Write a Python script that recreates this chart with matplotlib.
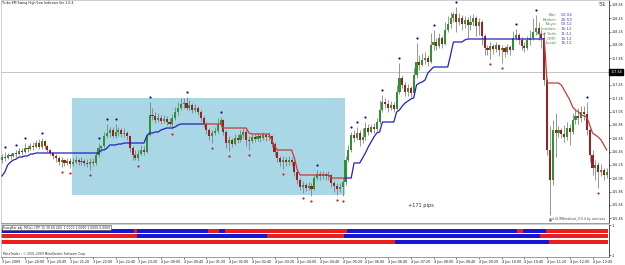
import numpy as np
import matplotlib
matplotlib.use('Agg')
import matplotlib.pyplot as plt
from matplotlib.patches import Rectangle

W, H = 625, 265

# ---- M5 bars, 3 Jun 19:20 onwards ----
first_open = 156.325
close = [
    156.37, 156.355, 156.4, 156.385, 156.43, 156.415, 156.46, 156.445, 156.505, 156.49,
    156.535, 156.52, 156.58, 156.52, 156.61, 156.535, 156.475, 156.43, 156.385, 156.355,
    156.295, 156.325, 156.28, 156.31, 156.265, 156.295, 156.325, 156.295, 156.31, 156.28,
    156.265, 156.295, 156.28, 156.4, 156.505, 156.535, 156.685, 156.73, 156.775, 156.685,
    156.745, 156.775, 156.715, 156.73, 156.685, 156.505, 156.4, 156.355, 156.415, 156.475,
    156.445, 156.7, 157.0, 156.985, 156.925, 156.955, 156.91, 156.94, 156.895, 156.865,
    156.955, 157.045, 157.105, 157.165, 157.18, 157.105, 157.15, 157.075, 157.105, 157.045,
    156.955, 156.865, 156.775, 156.685, 156.73, 156.76, 156.865, 156.925, 156.745, 156.58,
    156.625, 156.565, 156.655, 156.625, 156.7, 156.745, 156.625, 156.61, 156.67, 156.64,
    156.685, 156.655, 156.7, 156.67, 156.685, 156.565, 156.445, 156.355, 156.295, 156.325,
    156.295, 156.325, 156.295, 156.145, 156.025, 155.92, 155.95, 155.905, 155.935, 155.89,
    156.055, 156.115, 156.085, 156.115, 156.085, 156.1, 155.98, 155.935, 155.89, 155.92,
    155.995, 156.325, 156.475, 156.7, 156.655, 156.73, 156.625, 156.67, 156.805, 156.745,
    156.82, 156.79, 156.895, 157.075, 157.195, 157.165, 157.105, 157.15, 157.09, 157.345,
    157.555, 157.45, 157.345, 157.405, 157.33, 157.6, 157.795, 157.75, 157.825, 157.855,
    157.795, 158.05, 158.095, 158.035, 158.155, 158.065, 158.275, 158.365, 158.455, 158.515,
    158.395, 158.455, 158.365, 158.425, 158.35, 158.395, 158.455, 158.335, 158.395, 158.185,
    158.005, 157.975, 158.035, 157.99, 158.05, 157.975, 158.005, 157.945, 158.02, 157.975,
    158.155, 158.2, 158.125, 158.035, 158.005, 158.125, 158.155, 158.245, 158.305, 158.215,
    158.155, 157.525, 156.475, 156.025, 156.775, 156.73, 156.775, 156.715, 156.67, 156.805,
    156.745, 156.925, 156.985, 156.955, 157.045, 157.015, 156.775, 156.4, 156.205, 156.25,
    156.145, 156.175, 156.1, 156.145,
]
high = [
    156.415, 156.445, 156.43, 156.43, 156.43, 156.475, 156.505, 156.505, 156.58, 156.55,
    156.58, 156.595, 156.625, 156.64, 156.655, 156.625, 156.55, 156.49, 156.445, 156.415,
    156.385, 156.37, 156.34, 156.355, 156.355, 156.355, 156.385, 156.355, 156.37, 156.34,
    156.34, 156.355, 156.355, 156.445, 156.58, 156.55, 156.745, 156.865, 156.82, 156.82,
    156.865, 156.82, 156.805, 156.805, 156.76, 156.7, 156.535, 156.475, 156.475, 156.55,
    156.535, 156.73, 157.195, 157.105, 157.045, 157.03, 157.0, 157.0, 156.985, 156.955,
    157.015, 157.12, 157.195, 157.255, 157.255, 157.27, 157.225, 157.18, 157.165, 157.135,
    157.075, 156.985, 156.895, 156.805, 156.775, 156.82, 156.955, 156.97, 156.94, 156.775,
    156.685, 156.655, 156.715, 156.715, 156.775, 156.805, 156.775, 156.685, 156.715, 156.715,
    156.73, 156.73, 156.745, 156.73, 156.745, 156.7, 156.595, 156.475, 156.385, 156.385,
    156.37, 156.385, 156.37, 156.325, 156.175, 156.055, 156.01, 155.98, 155.995, 155.98,
    156.1, 156.175, 156.16, 156.16, 156.145, 156.16, 156.115, 156.01, 155.98, 155.98,
    156.055, 156.385, 156.55, 156.745, 156.775, 156.82, 156.775, 156.805, 156.895, 156.865,
    156.865, 156.88, 156.955, 157.225, 157.3, 157.255, 157.225, 157.21, 157.195, 157.45,
    157.78, 157.6, 157.495, 157.465, 157.435, 157.705, 158.08, 157.9, 157.93, 157.945,
    157.9, 158.23, 158.275, 158.155, 158.23, 158.185, 158.395, 158.485, 158.545, 158.545,
    158.62, 158.53, 158.5, 158.485, 158.47, 158.5, 158.515, 158.485, 158.455, 158.425,
    158.215, 158.05, 158.095, 158.065, 158.095, 158.065, 158.05, 158.035, 158.065, 158.05,
    158.26, 158.29, 158.23, 158.17, 158.095, 158.185, 158.275, 158.455, 158.5, 158.395,
    158.275, 158.245, 157.555, 156.835, 156.925, 157.03, 156.835, 156.805, 156.85, 156.895,
    156.865, 157.03, 157.075, 157.105, 157.135, 157.135, 157.195, 156.805, 156.475, 156.325,
    156.295, 156.265, 156.205, 156.205,
]
low = [
    156.28, 156.31, 156.34, 156.34, 156.37, 156.37, 156.4, 156.4, 156.43, 156.445,
    156.475, 156.475, 156.505, 156.49, 156.49, 156.49, 156.445, 156.4, 156.34, 156.295,
    156.25, 156.22, 156.235, 156.25, 156.205, 156.235, 156.265, 156.25, 156.25, 156.235,
    156.22, 156.175, 156.235, 156.25, 156.37, 156.445, 156.505, 156.655, 156.67, 156.655,
    156.655, 156.685, 156.67, 156.67, 156.625, 156.445, 156.325, 156.325, 156.31, 156.4,
    156.4, 156.43, 156.685, 156.925, 156.88, 156.895, 156.865, 156.88, 156.85, 156.835,
    156.79, 156.925, 157.0, 157.075, 157.105, 157.075, 157.075, 157.03, 157.045, 157.0,
    156.91, 156.82, 156.715, 156.625, 156.58, 156.7, 156.73, 156.82, 156.7, 156.505,
    156.46, 156.52, 156.55, 156.58, 156.595, 156.655, 156.535, 156.475, 156.58, 156.595,
    156.61, 156.595, 156.625, 156.61, 156.625, 156.52, 156.385, 156.295, 156.235, 156.19,
    156.235, 156.25, 156.235, 156.085, 155.965, 155.875, 155.83, 155.86, 155.875, 155.785,
    155.875, 156.025, 156.025, 156.04, 156.025, 156.025, 155.92, 155.845, 155.8, 155.845,
    155.785, 155.95, 156.295, 156.445, 156.595, 156.625, 156.535, 156.58, 156.625, 156.7,
    156.73, 156.73, 156.76, 156.865, 157.045, 157.105, 157.045, 157.075, 157.045, 157.075,
    157.315, 157.405, 157.285, 157.285, 157.27, 157.3, 157.555, 157.675, 157.735, 157.765,
    157.735, 157.78, 157.975, 157.975, 158.005, 158.005, 158.05, 158.245, 158.305, 158.395,
    158.245, 158.35, 158.275, 158.305, 158.155, 158.275, 158.335, 158.185, 158.2, 158.05,
    157.9, 157.9, 157.84, 157.915, 157.945, 157.885, 157.78, 157.87, 157.915, 157.9,
    157.975, 158.125, 158.065, 157.975, 157.945, 157.975, 158.05, 158.125, 158.2, 158.125,
    158.005, 157.45, 156.4, 155.5, 155.95, 156.37, 156.67, 156.655, 156.595, 156.625,
    156.55, 156.715, 156.865, 156.865, 156.895, 156.925, 156.7, 156.295, 156.1, 156.025,
    155.905, 156.085, 156.025, 156.055,
]

# swing high / swing low markers (bar index)
swing_hi = [1, 5, 8, 14, 34, 37, 40, 52, 65, 77, 111, 123, 125, 128, 134, 140, 146,
            152, 160, 181, 188, 206]
swing_lo = [21, 24, 31, 48, 60, 74, 80, 87, 99, 106, 109, 118, 120, 172, 176, 193, 210]

# trailing swing line and its colour segments
stop = ([156.085, 156.145, 156.25, 156.295, 156.325, 156.34, 156.37, 156.37,
         156.385, 156.385, 156.415, 156.415] + [156.43] * 23 +
        [156.475, 156.475, 156.505, 156.55, 156.55, 156.55, 156.565, 156.565] +
        [156.58] * 8 +
        [156.685, 156.73, 156.73, 156.745, 156.745, 156.775, 156.79, 156.805,
         156.805, 156.805, 156.82, 156.85] + [156.865] * 15 + [156.805] * 9 +
        [156.73] + [156.715] * 7 + [156.625, 156.535] + [156.475] * 6 +
        [156.355, 156.175] + [156.1] * 11 + [156.055] * 8 + [156.28] * 3 +
        [156.355, 156.43, 156.52, 156.595, 156.67, 156.73, 156.745] + [156.895] * 5 +
        [157.045, 157.075, 157.135, 157.18, 157.21, 157.24, 157.255, 157.45, 157.48,
         157.495, 157.525, 157.63, 157.675] + [157.72] * 6 + [157.9] + [158.095] * 4 +
        [158.125] + [158.14] * 28 + [157.48] * 5 +
        [157.45, 157.375, 157.3, 157.225, 157.12, 157.075, 157.045, 157.0, 156.985,
         156.97, 156.85, 156.73, 156.7, 156.67, 156.625, 156.55, 156.475])
stop_segments = [('up', 0, 71), ('down', 71, 121), ('up', 121, 191), ('down', 191, 213)]

# session box (bar range, price range)
box_bars = (24.65, 120.8)
box_prices = (155.8, 157.255)
current_price = 157.64

price_ticks = [158.65, 158.45, 158.25, 158.05, 157.85, 157.45, 157.25, 157.05,
               156.85, 156.65, 156.45, 156.25, 156.05, 155.85, 155.65, 155.45]

time_labels = ['3 Jun 2009', '3 Jun 20:00', '3 Jun 20:40', '3 Jun 21:20', '3 Jun 22:00',
               '3 Jun 22:40', '3 Jun 23:20', '4 Jun 00:00', '4 Jun 00:40', '4 Jun 01:20',
               '4 Jun 02:00', '4 Jun 02:40', '4 Jun 03:20', '4 Jun 04:00', '4 Jun 04:40',
               '4 Jun 05:20', '4 Jun 06:00', '4 Jun 06:40', '4 Jun 07:20', '4 Jun 08:00',
               '4 Jun 08:40', '4 Jun 09:20', '4 Jun 10:00', '4 Jun 10:40', '4 Jun 11:20',
               '4 Jun 12:00', '4 Jun 12:40']

clock_names = ['Bar:', 'Broker:', 'Tokyo:', 'London:', 'New York:', 'GMT:', 'Local:']
clock_values = ['00:04', '20:59', '00:12', '16:12', '11:12', '15:12', '16:12']

# sub window: run lengths of (state, bars) per row, 1 = blue, -1 = red
row1 = [(1, 47), (-1, 1), (1, 25), (-1, 4), (1, 2), (-1, 43), (1, 60), (-1, 2), (1, 8), (-1, 22)]
row2 = [(-1, 48), (1, 46), (-1, 27), (1, 69), (-1, 24)]
row3 = [(-1, 139), (1, 54), (-1, 21)]

close = np.array(close)
high = np.array(high)
low = np.array(low)
stop = np.array(stop)
opens = np.concatenate([[first_open], close[:-1]])
n = len(close)
idx = np.arange(n)


def frac(x0, y0, x1, y1):
    return [x0 / W, 1 - y1 / H, (x1 - x0) / W, (y1 - y0) / H]


def fpos(x, y):
    return x / W, 1 - y / H


fig = plt.figure(figsize=(W / 100, H / 100), dpi=100)
fig.patch.set_facecolor('white')

ax = fig.add_axes(frac(1, 0, 609, 223))
sub = fig.add_axes(frac(1, 224, 609, 257))

ax.set_xlim(-0.35, 213.8)
ax.set_ylim(155.38, 158.725)
sub.set_xlim(-0.35, 213.8)
sub.set_ylim(-2.65, 3.19)

# box + price line
ax.add_patch(Rectangle((box_bars[0], box_prices[0]), box_bars[1] - box_bars[0],
                       box_prices[1] - box_prices[0], facecolor='#aad7e5',
                       edgecolor='none', zorder=1))
ax.axhline(current_price, color='#c4c4c4', lw=0.7, zorder=0.5)

# candles
up = close >= opens
body_col = np.where(up, '#2e922e', '#9e1f1f')
ax.vlines(idx, low, high, color='#7a7a7a', lw=0.55, zorder=3)
body = np.where(np.abs(close - opens) < 0.006, 0.006, close - opens)
ax.bar(idx, body, bottom=opens, width=0.74, color=body_col, lw=0, zorder=4)

# swing line
for kind, a, b in stop_segments:
    ax.plot(idx[a:b + 1], stop[a:b + 1], color='#2222b8' if kind == 'up' else '#c43c3c',
            lw=0.9, zorder=5)

# swing markers
ax.plot(swing_hi, high[swing_hi] + 0.075, 'o', ms=1.6, color='#10109c', mew=0, zorder=6)
ax.plot(swing_lo, low[swing_lo] - 0.075, 'o', ms=1.6, color='#cc2020', mew=0, zorder=6)

ax.text(147.5, 155.635, '+171 pips', ha='center', va='center', fontsize=3.6,
        color='#303030', zorder=7)

# axes styling
for a in (ax, sub):
    for s in ('top', 'left'):
        a.spines[s].set_color('#c8c8c8')
        a.spines[s].set_linewidth(0.6)
    a.spines['bottom'].set_color('#8c8c8c')
    a.spines['bottom'].set_linewidth(0.6)
    a.spines['right'].set_color('#303030')
    a.spines['right'].set_linewidth(0.6)
    a.yaxis.tick_right()
    a.set_facecolor('white')

ax.set_yticks(price_ticks)
ax.set_yticklabels([f'{p:.2f}' for p in price_ticks])
ax.tick_params(axis='y', labelsize=2.4, length=1.2, width=0.4, pad=0.5, colors='#202020')
ax.tick_params(axis='x', bottom=False, labelbottom=False)

ax.text(1.002, current_price, f'{current_price:.2f}', transform=ax.get_yaxis_transform(),
        ha='left', va='center', fontsize=2.4, color='white', clip_on=False, zorder=10,
        bbox=dict(boxstyle='square,pad=0.25', facecolor='black', edgecolor='black'))

# sub window rows
for level, runs in zip([2, 1, 0], [row1, row2, row3]):
    start = 0
    for state, count in runs:
        sub.broken_barh([(start - 0.5, count)], (level - 0.35, 0.7),
                        facecolors='#1616d4' if state > 0 else '#ec1d1d', lw=0)
        start += count

sub.set_yticks([3.0, -2.3])
sub.set_yticklabels(['1', '-1'])
sub.tick_params(axis='y', labelsize=2.4, length=1.2, width=0.4, pad=0.5, colors='#202020')
sub.set_xticks(np.arange(0, n, 8)[:len(time_labels)])
sub.set_xticklabels(time_labels, ha='left')
sub.tick_params(axis='x', labelsize=2.4, length=1.5, width=0.4, pad=0.6, colors='#202020')

# captions
fig.text(*fpos(2, 1), 'Turbo EM Swing High/Low Indicator Ver 1.0.4', fontsize=2.3,
         va='top', ha='left', color='#202020')
fig.text(*fpos(606, 2), '51', fontsize=4.5, va='top', ha='right', color='#303030')
for k, (lab, val) in enumerate(zip(clock_names, clock_values)):
    y = 15 + 4.7 * k
    fig.text(*fpos(557, y), lab, fontsize=3, ha='right', va='center', color='#4f8e4f')
    fig.text(*fpos(561, y), val, fontsize=3, ha='left', va='center', color='#4c4cb6')
fig.text(*fpos(605, 219), 'ent.EURBreakout_V.0.4 by amsiaas', fontsize=2.3, ha='right',
         va='center', color='#505050')
fig.text(*fpos(3, 227.5), 'FuzzyBar adj, M5(s), HTF 15 30 60 240  1.0000 1.0000 1.0000 0.0000',
         fontsize=2.2, ha='left', va='center', color='#202020',
         bbox=dict(boxstyle='square,pad=0.2', facecolor='white', edgecolor='#404040', lw=0.4))
fig.text(*fpos(3, 254.5), 'MetaTrader - \u00a9 2001-2009 MetaQuotes Software Corp.',
         fontsize=2.2, ha='left', va='center', color='#303030')

fig.savefig('out.png', dpi=100, facecolor='white')
